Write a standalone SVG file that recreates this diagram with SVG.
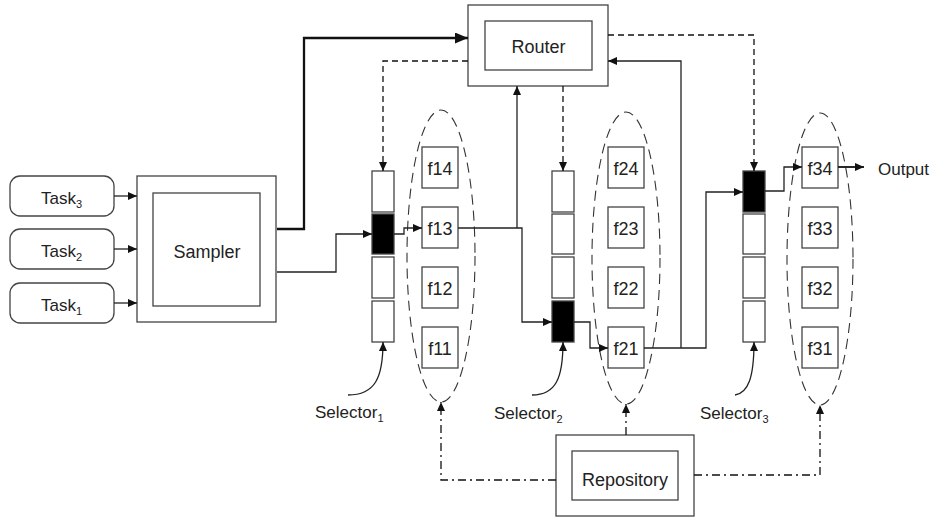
<svg xmlns="http://www.w3.org/2000/svg" width="931" height="517" viewBox="0 0 931 517">
<defs>
<marker id="arr" markerUnits="userSpaceOnUse" markerWidth="10" markerHeight="10" refX="9" refY="4" orient="auto"><path d="M0,0 L9,4 L0,8 Z" fill="#111"/></marker>
<marker id="arrBig" markerUnits="userSpaceOnUse" markerWidth="14" markerHeight="12" refX="13" refY="5.5" orient="auto"><path d="M0,0 L13,5.5 L0,11 Z" fill="#111"/></marker>
</defs>
<style>
.box{fill:#fff;stroke:#444;stroke-width:1.3}
.cell{fill:#fff;stroke:#444;stroke-width:1.3}
.blk{fill:#000;stroke:#444;stroke-width:1.3}
.ell{fill:none;stroke:#333;stroke-width:1.1;stroke-dasharray:10 6}
.t{font-family:"Liberation Sans",Arial,sans-serif;fill:#222;font-size:18px}
.s{font-size:17px}
.sub{font-size:11px}
.ln{fill:none;stroke:#222;stroke-width:1.3}
.thk{fill:none;stroke:#111;stroke-width:2.3}
.dsh{fill:none;stroke:#111;stroke-width:1.3;stroke-dasharray:6 4}
.dd{fill:none;stroke:#111;stroke-width:1.3;stroke-dasharray:8 4 2 4}
</style>

<g id="task3"><rect class="box" x="10" y="176" width="104" height="40" rx="10"/><text class="t s" x="41" y="204">Task<tspan class="sub" dy="4">3</tspan></text></g>
<g id="task2"><rect class="box" x="10" y="229" width="104" height="40" rx="10"/><text class="t s" x="41" y="257">Task<tspan class="sub" dy="4">2</tspan></text></g>
<g id="task1"><rect class="box" x="10" y="283" width="104" height="40" rx="10"/><text class="t s" x="41" y="311">Task<tspan class="sub" dy="4">1</tspan></text></g>

<g id="sampler"><rect class="box" x="137" y="176" width="139" height="146"/><rect class="box" x="153" y="193" width="107" height="113"/><text class="t" x="207" y="258" text-anchor="middle">Sampler</text></g>

<g id="router"><rect class="box" x="468" y="5" width="140" height="81"/><rect class="box" x="485" y="21" width="107" height="49"/><text class="t" x="538.5" y="53" text-anchor="middle">Router</text></g>

<g id="repository"><rect class="box" x="556" y="435" width="138" height="81"/><rect class="box" x="572" y="451" width="106" height="49"/><text class="t" x="625" y="486" text-anchor="middle">Repository</text></g>

<g id="selector1"><rect class="cell" x="372" y="171" width="22" height="41"/><rect class="blk" x="372" y="214" width="22" height="40"/><rect class="cell" x="372" y="257" width="22" height="41"/><rect class="cell" x="372" y="301" width="22" height="41"/><text class="t s" x="315" y="418">Selector<tspan class="sub" dy="4">1</tspan></text></g>
<g id="selector2"><rect class="cell" x="552" y="171" width="22" height="41"/><rect class="cell" x="552" y="214" width="22" height="40"/><rect class="cell" x="552" y="257" width="22" height="41"/><rect class="blk" x="552" y="301" width="22" height="41"/><text class="t s" x="494" y="419">Selector<tspan class="sub" dy="4">2</tspan></text></g>
<g id="selector3"><rect class="blk" x="743" y="171" width="22" height="41"/><rect class="cell" x="743" y="214" width="22" height="40"/><rect class="cell" x="743" y="257" width="22" height="41"/><rect class="cell" x="743" y="301" width="22" height="41"/><text class="t s" x="700" y="419">Selector<tspan class="sub" dy="4">3</tspan></text></g>

<g id="group1"><ellipse class="ell" cx="441" cy="256" rx="34" ry="146"/>
<rect class="box" x="422" y="147" width="36" height="41"/><text class="t" x="440" y="175" text-anchor="middle">f14</text>
<rect class="box" x="422" y="207" width="36" height="41"/><text class="t" x="440" y="235" text-anchor="middle">f13</text>
<rect class="box" x="422" y="267" width="36" height="41"/><text class="t" x="440" y="295" text-anchor="middle">f12</text>
<rect class="box" x="422" y="327" width="36" height="41"/><text class="t" x="440" y="355" text-anchor="middle">f11</text></g>
<g id="group2"><ellipse class="ell" cx="626" cy="258" rx="34" ry="146"/>
<rect class="box" x="608" y="147" width="36" height="41"/><text class="t" x="626" y="175" text-anchor="middle">f24</text>
<rect class="box" x="608" y="207" width="36" height="41"/><text class="t" x="626" y="235" text-anchor="middle">f23</text>
<rect class="box" x="608" y="267" width="36" height="41"/><text class="t" x="626" y="295" text-anchor="middle">f22</text>
<rect class="box" x="608" y="327" width="36" height="41"/><text class="t" x="626" y="355" text-anchor="middle">f21</text></g>
<g id="group3"><ellipse class="ell" cx="820" cy="259" rx="33" ry="146"/>
<rect class="box" x="802" y="147" width="36" height="41"/><text class="t" x="820" y="175" text-anchor="middle">f34</text>
<rect class="box" x="802" y="207" width="36" height="41"/><text class="t" x="820" y="235" text-anchor="middle">f33</text>
<rect class="box" x="802" y="267" width="36" height="41"/><text class="t" x="820" y="295" text-anchor="middle">f32</text>
<rect class="box" x="802" y="327" width="36" height="41"/><text class="t" x="820" y="355" text-anchor="middle">f31</text></g>

<g id="output"><text class="t s" x="878" y="175">Output</text></g>

<g id="connectors">
<path class="ln" d="M114,196 H137" marker-end="url(#arr)"/>
<path class="ln" d="M114,249 H137" marker-end="url(#arr)"/>
<path class="ln" d="M114,303 H137" marker-end="url(#arr)"/>
<path class="thk" d="M277,229 H304 V38 H468" marker-end="url(#arrBig)"/>
<path class="ln" d="M277,272 H336 V234 H372" marker-end="url(#arr)"/>
<path class="ln" d="M394,234 H404 V228 H422" marker-end="url(#arr)"/>
<path class="ln" d="M458,228 H522 V322 H552" marker-end="url(#arr)"/>
<path class="ln" d="M517,228 V86" marker-end="url(#arr)"/>
<path class="ln" d="M574,322 H590 V348 H608" marker-end="url(#arr)"/>
<path class="ln" d="M644,348 H706 V192 H743" marker-end="url(#arr)"/>
<path class="ln" d="M681,348 V61 H608" marker-end="url(#arr)"/>
<path class="ln" d="M765,191 H784 V167 H802" marker-end="url(#arr)"/>
<path class="thk" d="M838,167 H864" style="stroke-width:1.8" marker-end="url(#arr)"/>
<path class="dsh" d="M468,61 H383 V171" marker-end="url(#arr)"/>
<path class="dsh" d="M563,86 V171" marker-end="url(#arr)"/>
<path class="dsh" d="M608,35 H754 V171" marker-end="url(#arr)"/>
<path class="dd" d="M556,480 H441 V402" marker-end="url(#arr)"/>
<path class="dd" d="M626,435 V404" marker-end="url(#arr)"/>
<path class="dd" d="M694,475 H820 V405" marker-end="url(#arr)"/>
<path class="ln" d="M348,395 C375,395 383,378 383,342" marker-end="url(#arr)"/>
<path class="ln" d="M532,395 C556,395 563,378 563,342" marker-end="url(#arr)"/>
<path class="ln" d="M735,395 C748,393 754,378 754,342" marker-end="url(#arr)"/>
</g>
</svg>
